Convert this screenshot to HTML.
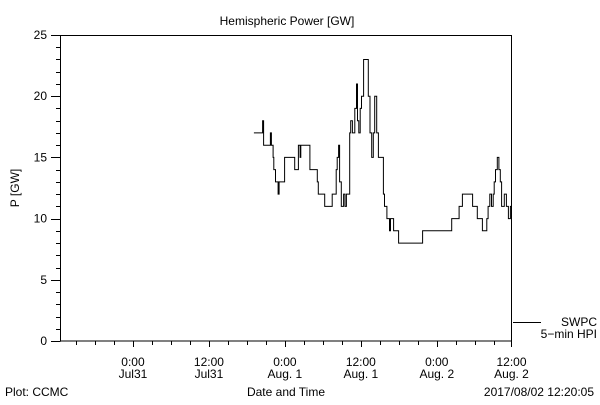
<!DOCTYPE html>
<html><head><meta charset="utf-8"><style>
body{margin:0;background:#fff}
svg text{font-family:"Liberation Sans",sans-serif;font-size:12px;fill:#000}
</style></head><body>
<svg id="chart" width="600" height="400" xmlns="http://www.w3.org/2000/svg">
<text x="287" y="25" text-anchor="middle" font-size="14">Hemispheric Power [GW]</text>
<text transform="translate(19,188) rotate(-90)" text-anchor="middle">P [GW]</text>
<rect x="60.5" y="35.5" width="451" height="305.5" fill="none" stroke="#000" stroke-width="1"/>
<g id="axes"></g>
<path id="series" fill="none" stroke="#000" stroke-width="1"/>
<line x1="513" y1="322.5" x2="541" y2="322.5" stroke="#000"/>
<text x="597" y="326" text-anchor="end">SWPC</text>
<text x="597" y="338" text-anchor="end">5−min HPI</text>
<text x="286" y="396" text-anchor="middle">Date and Time</text>
<text x="5" y="396">Plot: CCMC</text>
<text x="594" y="396" text-anchor="end">2017/08/02 12:20:05</text>
</svg>
<script>
// hours since Jul30 12:00
const hours = [31.57,32.48,32.64,33.71,33.87,34.13,34.24,34.51,34.93,35.09,35.95,37.55,38.13,38.4,38.51,39.95,41.12,41.28,42.29,43.47,44.11,44.27,44.48,44.64,44.91,45.28,45.49,45.71,46.24,46.4,46.67,47.04,47.31,47.47,47.68,47.89,48.11,48.43,49.17,49.44,49.71,49.97,50.19,50.51,50.77,51.57,51.73,52.11,52.53,52.69,53.17,53.97,57.76,62.35,63.52,64.05,65.65,66.4,67.2,67.89,68.11,68.37,68.64,68.91,69.07,69.28,69.55,69.81,70.03,70.24,70.67,70.99,71.31,71.63,71.8];
const power = [17,18,16,17,16,15,14,13,12,13,15,14,16,15,16,14,13,12,11,12,14,15,16,13,11,12,11,12,17,18,17,19,21,18,17,19,20,23,20,17,15,17,20,17,15,12,11,10,9,10,9,8,9,10,11,12,11,10,9,10,11,12,11,12,13,14,15,14,13,11,12,11,10,11,12];
const yTicks = [0,5,10,15,20,25];
const xTickHours = [12,24,36,48,60,72];
const xTickLine1 = ["0:00","12:00","0:00","12:00","0:00","12:00"];
const xTickLine2 = ["Jul31","Jul31","Aug. 1","Aug. 1","Aug. 2","Aug. 2"];
const X0=60.5,X1=511.5,Y0=341,Y1=35,HMIN=0.55,HMAX=71.8,VMAX=25;
const xs=h=>X0+(h-HMIN)/(HMAX-HMIN)*(X1-X0);
const ys=v=>Y0-v/VMAX*(Y0-Y1);
const NS="http://www.w3.org/2000/svg";
const ax=document.getElementById('axes');
function ln(x1,y1,x2,y2,name){const l=document.createElementNS(NS,'line');
l.setAttribute('x1',x1);l.setAttribute('y1',y1);l.setAttribute('x2',x2);l.setAttribute('y2',y2);l.setAttribute('stroke','#000');


ax.appendChild(l);}
function tx(x,y,s,anchor,name){const t=document.createElementNS(NS,'text');
t.setAttribute('x',x);t.setAttribute('y',y);t.setAttribute('text-anchor',anchor);t.textContent=s;


ax.appendChild(t);}
for(let v=0;v<=VMAX;v++){const y=Math.round(ys(v))+0.5;ln(v%5===0?51:56,y,X0,y,'y-tick');}
yTicks.forEach(v=>tx(47,ys(v)+4,String(v),'end','y-tick-label'));
for(let h=3;h<=72;h+=3){if(h<HMIN||h>HMAX+0.5)continue;const x=Math.min(Math.round(xs(h))+0.5,X1);ln(x,Y0,x,Y0+(h%12===0?6:4),'x-tick');}
xTickHours.forEach((h,i)=>{const x=Math.min(xs(h),X1);tx(x,Y0+25,xTickLine1[i],'middle','x-tick-label-time');tx(x,Y0+37,xTickLine2[i],'middle','x-tick-label-date');});
let d='';
for(let i=0;i<hours.length;i++){const x=xs(hours[i]).toFixed(1),y=ys(power[i]).toFixed(1);
if(i===0)d+='M'+(xs(hours[0])-3).toFixed(1)+' '+y+' H'+x;
else d+=' H'+x+' V'+y;}
d+=' H'+X1;
document.getElementById('series').setAttribute('d',d);
</script>
</body></html>
